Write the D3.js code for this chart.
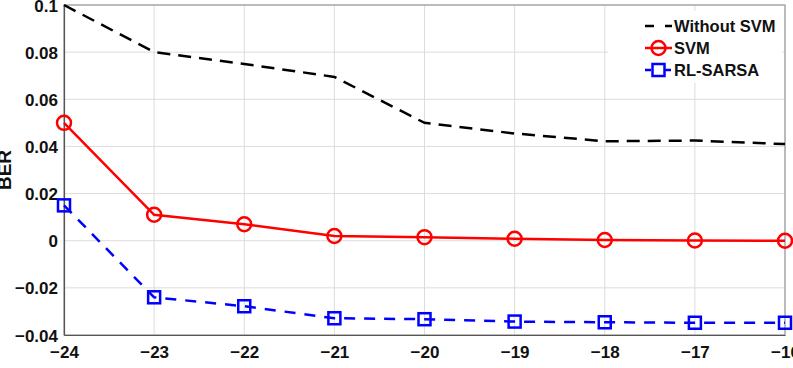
<!DOCTYPE html>
<html>
<head>
<meta charset="utf-8">
<script src="https://cdn.jsdelivr.net/npm/d3@7"></script>
<style>
  body { margin: 0; background: #fff; }
  svg { display: block; font-family: "Liberation Sans", Arial, sans-serif; }
</style>
</head>
<body>
<svg id="chart" width="793" height="368"></svg>
<script>
// data
const snr = [-24, -23, -22, -21, -20, -19, -18, -17, -16];
const withoutSvm = [0.1, 0.08, 0.075, 0.0695, 0.05, 0.0455, 0.0422, 0.0425, 0.041];
const svm = [0.05, 0.011, 0.007, 0.002, 0.0015, 0.00085, 0.0003, 0.0001, 0];
const rlSarsa = [0.015, -0.024, -0.0278, -0.0329, -0.0333, -0.0343, -0.0346, -0.0348, -0.0348];
const xTicks = [-24, -23, -22, -21, -20, -19, -18, -17, -16];
const yTicks = [-0.04, -0.02, 0, 0.02, 0.04, 0.06, 0.08, 0.1];
const seriesNames = ['Without SVM', 'SVM', 'RL-SARSA'];

const margin = { top: 5, right: 8, bottom: 33, left: 64 };
const width = 793, height = 368;
const svg = d3.select('#chart');

const x = d3.scaleLinear().domain([-24, -16]).range([margin.left, width - margin.right]);
const y = d3.scaleLinear().domain([-0.04, 0.1]).range([height - margin.bottom, margin.top]);

// grid
svg.append('g').selectAll('line.gx')
    .data(xTicks).join('line')
    .attr('x1', d => x(d)).attr('x2', d => x(d))
    .attr('y1', y(-0.04)).attr('y2', y(0.1))
    .attr('stroke', '#dcdcdc').attr('stroke-width', 1);
svg.append('g').selectAll('line.gy')
    .data(yTicks).join('line')
    .attr('y1', d => y(d)).attr('y2', d => y(d))
    .attr('x1', x(-24)).attr('x2', x(-16))
    .attr('stroke', '#dcdcdc').attr('stroke-width', 1);

// box + axes
svg.append('rect')
    .attr('x', x(-24)).attr('y', y(0.1))
    .attr('width', x(-16) - x(-24)).attr('height', y(-0.04) - y(0.1))
    .attr('fill', 'none').attr('stroke', '#8a8a8a').attr('stroke-width', 1);

const xAxis = d3.axisBottom(x).tickValues(xTicks).tickSize(0).tickPadding(9)
    .tickFormat(d3.format('d'));
const yAxis = d3.axisLeft(y).tickValues(yTicks).tickSize(0).tickPadding(6)
    .tickFormat(d => d === 0 ? '0' : d3.format('.2~f')(d));

const gx = svg.append('g').attr('transform', `translate(0,${y(-0.04)})`).call(xAxis);
const gy = svg.append('g').attr('transform', `translate(${x(-24)},0)`).call(yAxis);
[gx, gy].forEach(g => {
    g.select('.domain').attr('stroke', '#555').attr('stroke-width', 1.2);
    g.selectAll('text')
        .attr('fill', '#111')
        .style('font-size', '17px')
        .style('font-weight', 'bold');
});
gx.selectAll('text').attr('dy', '0.85em');
gy.selectAll('text').attr('dy', '0.36em');

// y label, partly cut at the left edge like the original
svg.append('text')
    .attr('transform', `translate(11,${(y(0.1) + y(-0.04)) / 2})`+ ' rotate(-90)')
    .attr('text-anchor', 'middle')
    .style('font-size', '19px').style('font-weight', 'bold')
    .attr('fill', '#111')
    .text('BER');

const line = d3.line().x((d, i) => x(snr[i])).y(d => y(d));

// without SVM
svg.append('path').datum(withoutSvm)
    .attr('d', line).attr('fill', 'none')
    .attr('stroke', '#000').attr('stroke-width', 2.5)
    .attr('stroke-dasharray', '13,8');

// SVM
svg.append('path').datum(svm)
    .attr('d', line).attr('fill', 'none')
    .attr('stroke', '#ff0000').attr('stroke-width', 2.5);
svg.append('g').selectAll('circle')
    .data(svm).join('circle')
    .attr('cx', (d, i) => x(snr[i])).attr('cy', d => y(d))
    .attr('r', 7).attr('fill', 'none')
    .attr('stroke', '#ff0000').attr('stroke-width', 2.5);

// RL-SARSA
svg.append('path').datum(rlSarsa)
    .attr('d', line).attr('fill', 'none')
    .attr('stroke', '#0000ff').attr('stroke-width', 2.5)
    .attr('stroke-dasharray', '11,9');
svg.append('g').selectAll('rect')
    .data(rlSarsa).join('rect')
    .attr('x', (d, i) => x(snr[i]) - 6).attr('y', d => y(d) - 6)
    .attr('width', 12).attr('height', 12).attr('fill', 'none')
    .attr('stroke', '#0000ff').attr('stroke-width', 2.5);

// legend
const lg = svg.append('g').attr('transform', 'translate(608,11)');
lg.append('rect').attr('width', 174).attr('height', 72).attr('fill', '#fff');
const rowY = [15, 37, 59];
const colors = ['#000', '#ff0000', '#0000ff'];
seriesNames.forEach((name, i) => {
    const g = lg.append('g').attr('transform', `translate(0,${rowY[i]})`);
    g.append('line')
        .attr('x1', 37).attr('x2', 64).attr('y1', 0).attr('y2', 0)
        .attr('stroke', colors[i]).attr('stroke-width', 2.5)
        .attr('stroke-dasharray', i === 1 ? null : (i === 0 ? '9,11' : '6,4'));
    if (i === 1) {
        g.append('circle').attr('cx', 50.5).attr('cy', 0).attr('r', 7)
            .attr('fill', 'none').attr('stroke', colors[i]).attr('stroke-width', 2.5);
    }
    if (i === 2) {
        g.append('rect').attr('x', 44.5).attr('y', -6).attr('width', 12).attr('height', 12)
            .attr('fill', '#fff').attr('stroke', colors[i]).attr('stroke-width', 2.5);
    }
    g.append('text')
        .attr('x', 66).attr('y', 0).attr('dy', '0.36em')
        .style('font-size', '16.5px').style('font-weight', 'bold')
        .attr('fill', '#111')
        .text(name);
});
</script>
</body>
</html>
